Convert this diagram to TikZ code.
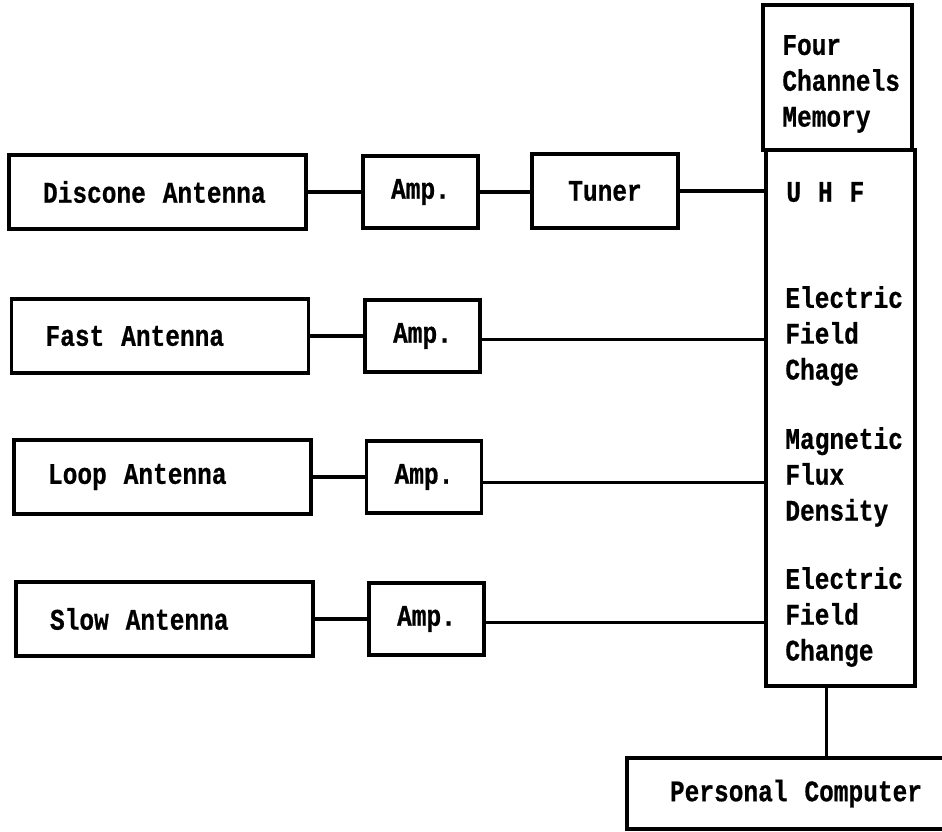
\documentclass[tikz,border=0pt]{standalone}
\usepackage{fontspec}
\usepackage{tikz}
\usetikzlibrary{positioning,calc}
\newfontfamily\scanfont[FakeStretch=0.82,WordSpace=1.15,
  BoldFeatures={FakeBold=0.6}]{Liberation Mono}
\tikzset{
  blk/.style={draw,line width=2pt,inner sep=0pt,
              font=\scanfont\bfseries\fontsize{17}{20.4}\selectfont},
  ant/.style={blk,minimum width=5.94cm,minimum height=1.48cm,
              text width=5.9cm,align=left,
              execute at begin node={\spaceskip=\fontdimen2\font
                \hspace*{0.66cm}}},
  amp/.style={blk,minimum width=2.3cm,minimum height=1.44cm},
  tun/.style={blk,minimum width=2.92cm,minimum height=1.48cm},
  mem/.style={blk,minimum width=2.98cm},
  lbl/.style={font=\scanfont\bfseries\fontsize{17}{20.4}\selectfont,
              align=left,anchor=west,inner sep=0pt},
  lnk/.style={line width=2pt},
}
\begin{document}
\begin{tikzpicture}[x=0.02cm,y=-0.02cm]
  \useasboundingbox (0,0) rectangle (942,831);
  \node[mem,minimum height=2.9cm](MH)  at (837.5,77.5) {};
  \node[mem,minimum height=10.72cm](MB) at (840.5,418) {};
  \node[lbl](MHT) at (782,84)  {Four\\Channels\\Memory};
  \node[lbl](UHF) at (786,192) {U H F};
  \node[lbl](EFC) at (785,336) {Electric\\Field\\Chage};
  \node[lbl](MFD) at (785,477) {Magnetic\\Flux\\Density};
  \node[lbl](EFG) at (785,617) {Electric\\Field\\Change};

  \node[ant](DA)  at (157.5,192) {Discone Antenna};
  \node[amp](A1)  at (420.5,192) {Amp.};
  \node[tun](TU)  at (605,191)   {Tuner};
  \node[ant](FA)  at (160,336)   {Fast Antenna};
  \node[amp](A2)  at (422.5,336) {Amp.};
  \node[ant](LA)  at (162.5,477) {Loop Antenna};
  \node[amp](A3)  at (424,477)   {Amp.};
  \node[ant](SA)  at (164.5,619) {Slow Antenna};
  \node[amp](A4)  at (426.5,619) {Amp.};
  \node[blk,minimum width=6.76cm,minimum height=1.42cm](PC) at (796,793.5)
       {Personal Computer};

  \draw[lnk](DA) -- (A1);
  \draw[lnk](A1) -- (A1 -| TU.west);
  \draw[lnk](TU.east) -- (TU.east -| MB.west);
  \draw[lnk](FA) -- (A2);
  \draw[lnk]([yshift=-2]A2.east) -- ([yshift=-2]A2.east -| MB.west);
  \draw[lnk](LA) -- (A3);
  \draw[lnk]([yshift=-3]A3.east) -- ([yshift=-3]A3.east -| MB.west);
  \draw[lnk](SA) -- (A4);
  \draw[lnk]([yshift=-2]A4.east) -- ([yshift=-2]A4.east -| MB.west);
  \draw[lnk]([xshift=-8]MB.south) -- ([xshift=-8]MB.south |- PC.north);
\end{tikzpicture}
\end{document}
